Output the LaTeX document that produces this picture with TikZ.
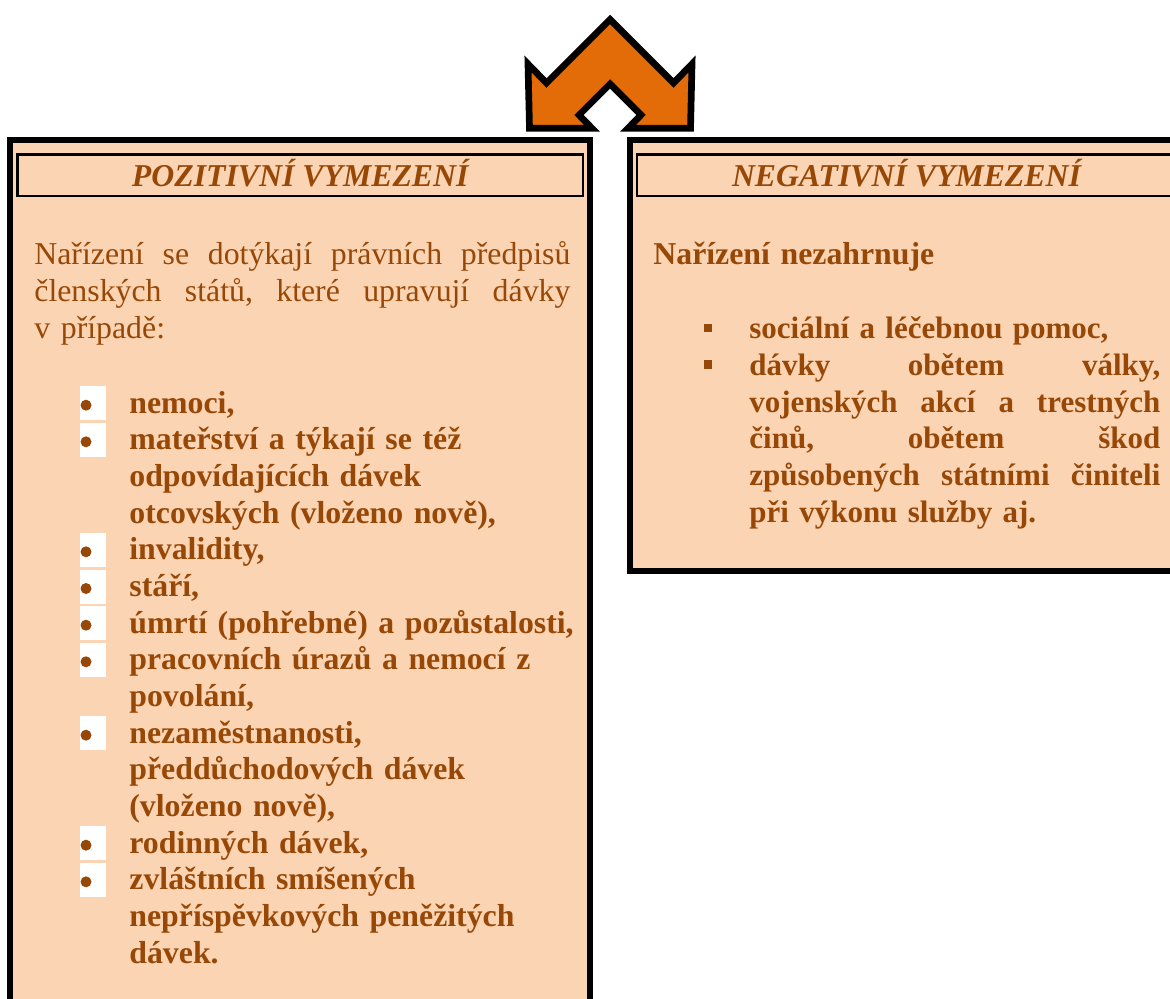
\documentclass[tikz,border=0pt]{standalone}
\usepackage{fontspec}
\setmainfont{Liberation Serif}
\usetikzlibrary{shapes,arrows}
\usetikzlibrary{positioning}
\definecolor{peach}{HTML}{FBD4B4}
\definecolor{deeporange}{HTML}{E36C09}
\definecolor{rust}{HTML}{984806}
\setlength{\lineskiplimit}{-20pt}
\newcommand{\fullline}[2]{\makebox[#1][s]{#2}}
\tikzstyle{outerbox} = [draw=black, line width=3pt, fill=peach]
\tikzstyle{headbox} = [
    rectangle, draw=black, line width=1.2pt, minimum height=20.75pt,
    text height=11.75pt, text depth=0pt, inner sep=0pt, text=rust,
    font=\fontsize{15.9}{18.33}\selectfont\bfseries\itshape]
\tikzstyle{para} = [
    anchor=base west, inner sep=0pt, text width=268pt, align=left, text=rust,
    font=\fontsize{15.9}{18.33}\selectfont]
\tikzstyle{entry} = [para, text width=225pt, font=\fontsize{15.9}{18.33}\selectfont\bfseries]
\tikzstyle{negentry} = [entry, text width=205.5pt, font=\fontsize{15.5}{18.33}\selectfont\bfseries]
\tikzstyle{wbox} = [rectangle, fill=white, minimum width=13pt, minimum height=17pt, inner sep=0pt]
\tikzstyle{sqbul} = [rectangle, fill=rust, minimum size=4.25pt, inner sep=0pt]
\tikzstyle{bigarrow} = [draw=black, line width=3.35pt, fill=deeporange]

\begin{document}
\begin{tikzpicture}[x=0.5pt,y=-0.5pt]
\useasboundingbox (0,0) rectangle (1170,999);
\clip (0,0) rectangle (1170,999);

% left panel
\draw [outerbox] (10,140) rectangle (590,1030);
\node (pozhead) [headbox, minimum width=282.75pt] at (300.25,175.25) {POZITIVNÍ VYMEZENÍ};
\node (pozintro) [para] at (34,265) {
    \fullline{268pt}{Nařízení \hfill se \hfill dotýkají \hfill právních \hfill předpisů}\\
    \fullline{268pt}{členských \hfill států, \hfill které \hfill upravují \hfill dávky}\\
    v případě:
};

\node (b1) [wbox] at (93,403.2) {};
\node (b2) [wbox] at (93,439.8) {};
\node (b3) [wbox] at (93,549.8) {};
\node (b4) [wbox] at (93,586.5) {};
\node (b5) [wbox] at (93,623.2) {};
\node (b6) [wbox] at (93,659.8) {};
\node (b7) [wbox] at (93,733.2) {};
\node (b8) [wbox] at (93,843.2) {};
\node (b9) [wbox] at (93,879.8) {};
\fill [rust] (86,405.2) circle (2.75pt);
\fill [rust] (86,441.8) circle (2.75pt);
\fill [rust] (86,551.8) circle (2.75pt);
\fill [rust] (86,588.5) circle (2.75pt);
\fill [rust] (86,625.2) circle (2.75pt);
\fill [rust] (86,661.8) circle (2.75pt);
\fill [rust] (86,735.2) circle (2.75pt);
\fill [rust] (86,845.2) circle (2.75pt);
\fill [rust] (86,881.8) circle (2.75pt);

\node (poz1) [entry] at (129,413.2) {nemoci,};
\node (poz2) [entry] at (129,449.8) {
    mateřství a týkají se též\\
    odpovídajících dávek\\
    otcovských (vloženo nově),
};
\node (poz3) [entry] at (129,559.8) {invalidity,};
\node (poz4) [entry] at (129,596.5) {stáří,};
\node (poz5) [entry] at (129,633.2) {úmrtí (pohřebné) a pozůstalosti,};
\node (poz6) [entry] at (129,669.8) {
    pracovních úrazů a nemocí z\\
    povolání,
};
\node (poz7) [entry] at (129,743.2) {
    nezaměstnanosti,\\
    předdůchodových dávek\\
    (vloženo nově),
};
\node (poz8) [entry] at (129,853.2) {rodinných dávek,};
\node (poz9) [entry] at (129,889.8) {
    zvláštních smíšených\\
    nepříspěvkových peněžitých\\
    dávek.
};

% right panel
\draw [outerbox] (630,140) rectangle (1190,571);
\node (neghead) [headbox, minimum width=269.5pt] at (906.5,175.25) {NEGATIVNÍ VYMEZENÍ};
\node (negintro) [entry] at (653,265) {Nařízení nezahrnuje};

\node (s1) [sqbul] at (708,327.8) {};
\node (s2) [sqbul] at (708,364.5) {};
\node (neg1) [negentry] at (749,338.8) {sociální a léčebnou pomoc,};
\node (neg2) [negentry] at (749,375.5) {
    \fullline{205.5pt}{dávky \hfill obětem \hfill války,}\\
    \fullline{205.5pt}{vojenských \hfill akcí \hfill a \hfill trestných}\\
    \fullline{205.5pt}{činů, \hfill obětem \hfill škod}\\
    \fullline{205.5pt}{způsobených \hfill státními \hfill činiteli}\\
    při výkonu služby aj.
};

% bent double arrow on top
\draw [bigarrow] (610,19.5) -- (673.5,83) -- (692,64) -- (690.5,128.3) -- (628,128.3)
    -- (641,115) -- (610,84) -- (579,115) -- (592,128.3) -- (529.5,128.3)
    -- (528,64) -- (546.5,83) -- cycle;
\end{tikzpicture}
\end{document}
